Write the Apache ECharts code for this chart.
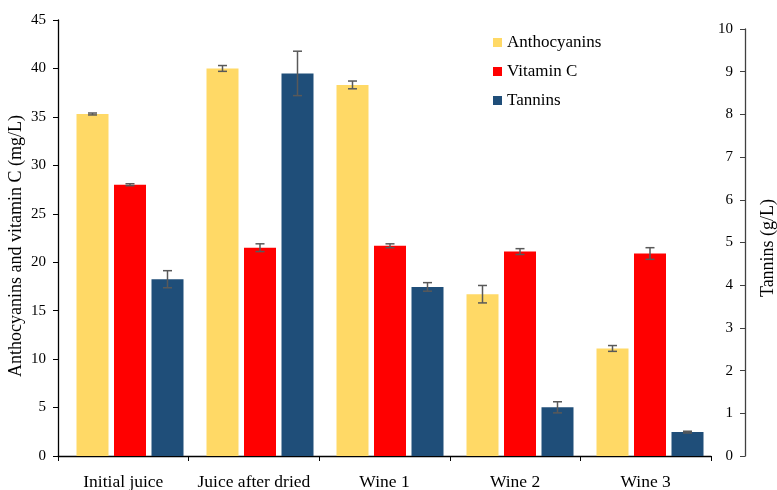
<!DOCTYPE html>
<html>
<head>
<meta charset="utf-8">
<script src="https://cdn.jsdelivr.net/npm/echarts@6/dist/echarts.min.js"></script>
<style>
  html, body { margin: 0; padding: 0; background: #fff; }
  #chart { width: 777px; height: 490px; }
</style>
</head>
<body>
<div id="chart"></div>
<script>
// Samples along the processing chain
const categories = ['Initial juice', 'Juice after dried', 'Wine 1', 'Wine 2', 'Wine 3'];

// Anthocyanins and vitamin C in mg/L (left axis), tannins in g/L (right axis)
const anthocyanins    = [35.3, 40.0, 38.3, 16.7, 11.1];
const anthocyaninsErr = [0.1, 0.3, 0.4, 0.9, 0.3];
const vitaminC        = [28.0, 21.5, 21.7, 21.1, 20.9];
const vitaminCErr     = [0.1, 0.4, 0.2, 0.3, 0.6];
const tannins         = [4.14, 8.96, 3.96, 1.14, 0.56];
const tanninsErr      = [0.2, 0.52, 0.1, 0.13, 0.02];

// Axis ranges
const leftMax = 45, leftStep = 5;
const rightMax = 10, rightStep = 1;

const FONT = 'Liberation Serif';
const BAR_W = 32;
const BAR_GAP = 5.5;
const COLORS = ['#FFD966', '#FF0000', '#1F4E79'];

// Plot area used for the bars and the left axis
const TOP = 20, BOTTOM = 34;
// The tannin scale starts a little lower than the left one
const RIGHT_TOP = 29;
const plotH = 490 - TOP - BOTTOM;
const rightH = 490 - RIGHT_TOP - BOTTOM;
const tanninsScaleMax = rightMax * plotH / rightH;

function errorBars(name, values, errs, yAxisIndex, slot) {
  return {
    type: 'custom',
    name: name + ' error',
    xAxisIndex: 0,
    yAxisIndex: yAxisIndex,
    silent: true,
    z: 10,
    data: values.map((v, i) => [i, v - errs[i], v + errs[i]]),
    renderItem: function (params, api) {
      const i = api.value(0);
      const lo = api.coord([i, api.value(1)]);
      const hi = api.coord([i, api.value(2)]);
      const x = lo[0] + slot * (BAR_W + BAR_GAP);
      const cap = 4.5;
      const style = { stroke: '#595959', lineWidth: 1.5 };
      return {
        type: 'group',
        children: [
          { type: 'line', shape: { x1: x, y1: lo[1], x2: x, y2: hi[1] }, style: style },
          { type: 'line', shape: { x1: x - cap, y1: lo[1], x2: x + cap, y2: lo[1] }, style: style },
          { type: 'line', shape: { x1: x - cap, y1: hi[1], x2: x + cap, y2: hi[1] }, style: style }
        ]
      };
    }
  };
}

const chart = echarts.init(document.getElementById('chart'), null, { renderer: 'canvas' });

chart.setOption({
  animation: false,
  backgroundColor: '#fff',
  textStyle: { fontFamily: FONT, color: '#000' },
  legend: {
    data: ['Anthocyanins', 'Vitamin C', 'Tannins'],
    orient: 'vertical',
    left: 488,
    top: 29,
    itemWidth: 9,
    itemHeight: 9,
    itemGap: 12,
    icon: 'rect',
    textStyle: { fontFamily: FONT, fontSize: 17, color: '#000' }
  },
  grid: [
    // bars
    { left: 65, right: 62, top: TOP, bottom: BOTTOM, containLabel: false, outerBoundsMode: 'none' },
    // category axis line and the tannin axis
    { left: 58, right: 66, top: RIGHT_TOP, bottom: BOTTOM, containLabel: false, outerBoundsMode: 'none' }
  ],
  xAxis: [
    { type: 'category', gridIndex: 0, data: categories, show: false },
    {
      type: 'category', gridIndex: 1, data: categories,
      axisLine: { show: true, lineStyle: { color: '#000', width: 1.3 } },
      axisTick: { show: true, length: 5, interval: 0, lineStyle: { color: '#000' } },
      axisLabel: { fontFamily: FONT, fontSize: 17.5, color: '#000', margin: 17, interval: 0 }
    }
  ],
  yAxis: [
    {
      type: 'value', gridIndex: 0, position: 'left', offset: 7,
      min: 0, max: leftMax, interval: leftStep,
      name: 'Anthocyanins and vitamin C (mg/L)',
      nameLocation: 'middle', nameGap: 33, nameMoveOverlap: false,
      nameTextStyle: { fontFamily: FONT, fontSize: 18, color: '#000', padding: [0, 16, 0, 0] },
      axisLine: { show: true, lineStyle: { color: '#000', width: 1.3 } },
      axisTick: { show: true, length: 5, lineStyle: { color: '#000' } },
      axisLabel: { fontFamily: FONT, fontSize: 15, color: '#000', margin: 12 },
      splitLine: { show: false }
    },
    {
      type: 'value', gridIndex: 0, min: 0, max: tanninsScaleMax, show: false,
      splitLine: { show: false }
    },
    {
      type: 'value', gridIndex: 1, position: 'right', offset: 34,
      min: 0, max: rightMax, interval: rightStep,
      name: 'Tannins (g/L)',
      nameLocation: 'middle', nameGap: 14, nameMoveOverlap: false,
      nameTextStyle: { fontFamily: FONT, fontSize: 18, color: '#000', padding: [0, 11, 0, 0] },
      axisLine: { show: true, lineStyle: { color: '#404040', width: 1.3 } },
      axisTick: { show: true, inside: true, length: 5, lineStyle: { color: '#404040' } },
      axisLabel: { inside: true, fontFamily: FONT, fontSize: 15, color: '#000', margin: 12 },
      splitLine: { show: false }
    }
  ],
  series: [
    {
      name: 'Anthocyanins', type: 'bar', xAxisIndex: 0, yAxisIndex: 0,
      data: anthocyanins, barWidth: BAR_W, barGap: (BAR_GAP / BAR_W * 100) + '%',
      itemStyle: { color: COLORS[0] }
    },
    {
      name: 'Vitamin C', type: 'bar', xAxisIndex: 0, yAxisIndex: 0,
      data: vitaminC, barWidth: BAR_W, barGap: (BAR_GAP / BAR_W * 100) + '%',
      itemStyle: { color: COLORS[1] }
    },
    {
      name: 'Tannins', type: 'bar', xAxisIndex: 0, yAxisIndex: 1,
      data: tannins, barWidth: BAR_W, barGap: (BAR_GAP / BAR_W * 100) + '%',
      itemStyle: { color: COLORS[2] }
    },
    errorBars('Anthocyanins', anthocyanins, anthocyaninsErr, 0, -1),
    errorBars('Vitamin C', vitaminC, vitaminCErr, 0, 0),
    errorBars('Tannins', tannins, tanninsErr, 1, 1)
  ]
});
</script>
</body>
</html>
